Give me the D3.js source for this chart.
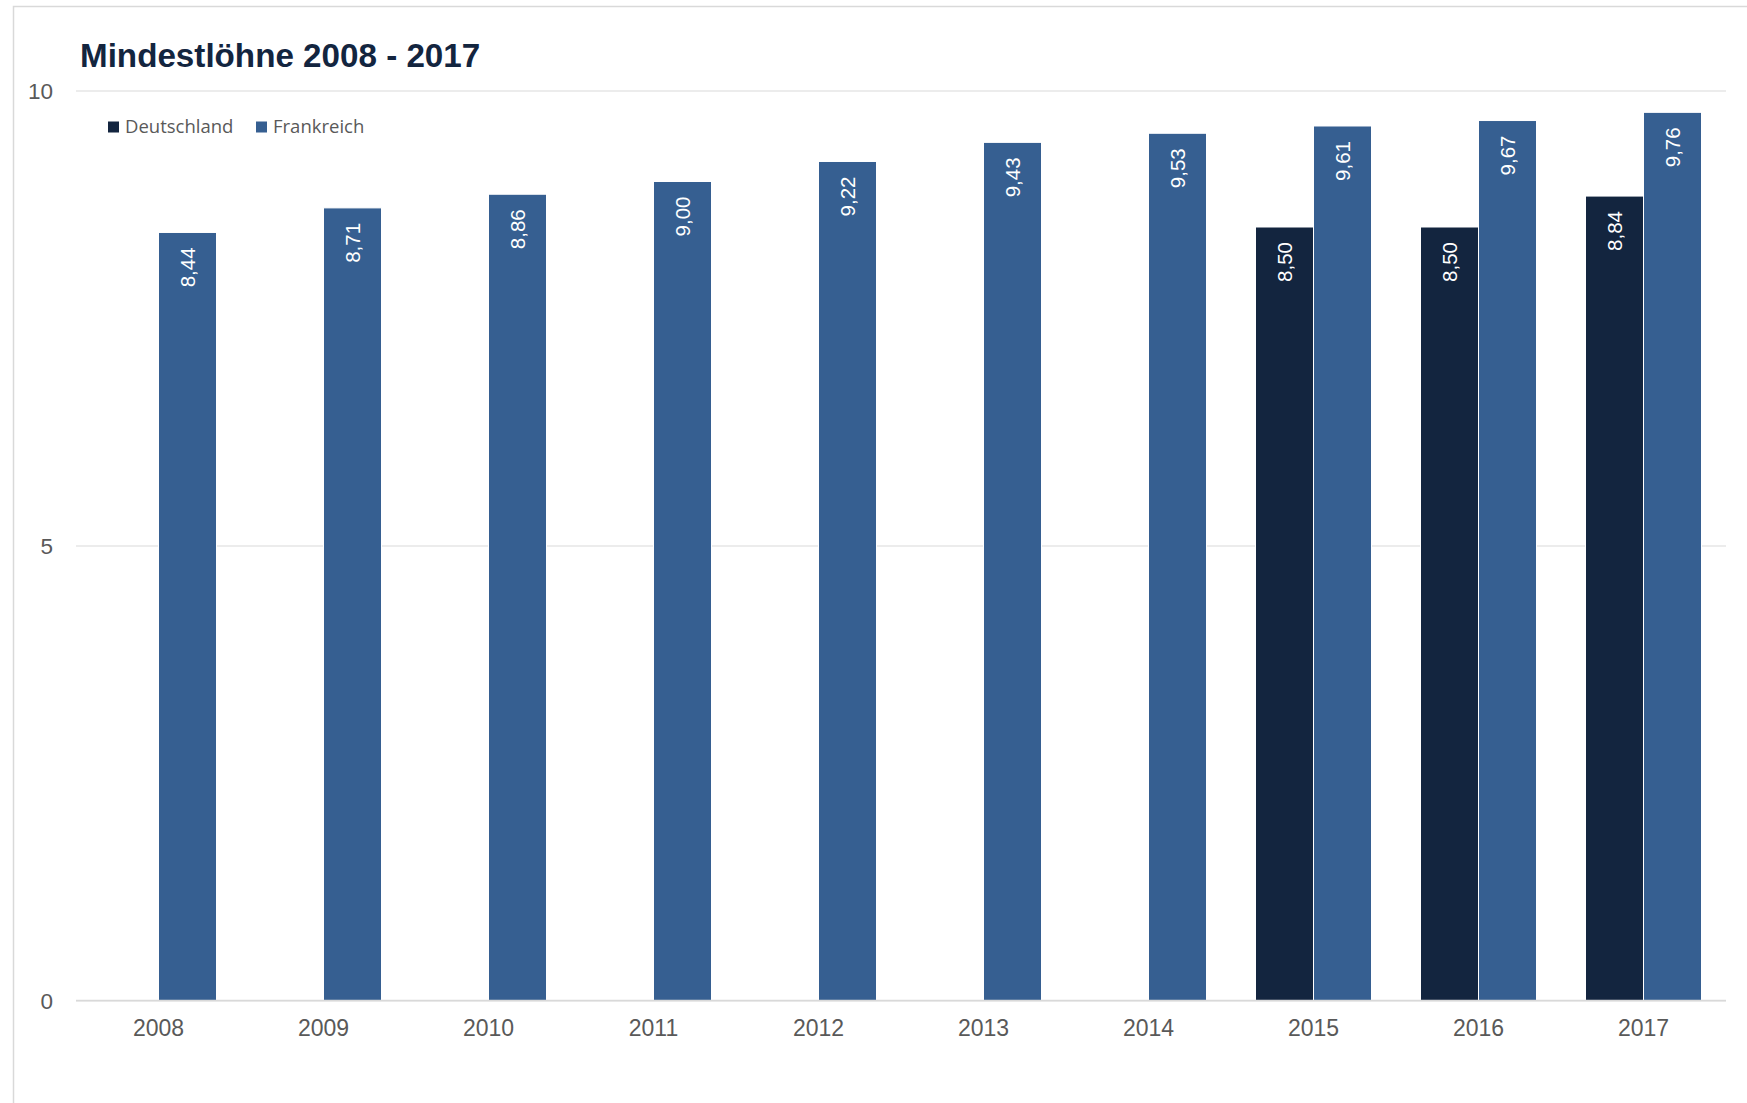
<!DOCTYPE html>
<html>
<head>
<meta charset="utf-8">
<script src="https://cdn.jsdelivr.net/npm/d3@7"></script>
<style>
  html, body { margin: 0; padding: 0; background: #ffffff; }
  svg { display: block; }
</style>
</head>
<body>
<svg id="chart" width="1747" height="1103"></svg>
<script>
// ---- data ----
const years = ["2008", "2009", "2010", "2011", "2012", "2013", "2014", "2015", "2016", "2017"];
const seriesNames = ["Deutschland", "Frankreich"];
const deutschland = [null, null, null, null, null, null, null, 8.50, 8.50, 8.84];
const frankreich = [8.44, 8.71, 8.86, 9.00, 9.22, 9.43, 9.53, 9.61, 9.67, 9.76];
const yTicks = [0, 5, 10];
const title = "Mindestlöhne 2008 - 2017";

// ---- layout / style ----
const colors = { "Deutschland": "#13253f", "Frankreich": "#365f91" };
const labelColor = "#595959";
const gridColor = "#d9d9d9";
const fontAxis = "'Liberation Sans', Arial, sans-serif";
const plot = { left: 76, right: 1726, top: 90.5, bottom: 1000.5 };

const svg = d3.select("#chart");

// outer frame
svg.append("rect")
  .attr("x", 13.5).attr("y", 6.5)
  .attr("width", 1800).attr("height", 1200)
  .attr("fill", "none").attr("stroke", gridColor).attr("stroke-width", 1.5);

// title
svg.append("text")
  .attr("x", 80).attr("y", 67)
  .attr("font-family", fontAxis)
  .attr("font-weight", "bold")
  .attr("font-size", 33.2)
  .attr("fill", "#13253f")
  .text(title);

// scales
const y = d3.scaleLinear().domain([0, 10]).range([plot.bottom, plot.top]);
const x0 = d3.scaleBand().domain(years).range([plot.left, plot.right])
  .paddingInner(0.297).paddingOuter(0.1485);
const x1 = d3.scaleBand().domain(seriesNames).range([0, x0.bandwidth()]).padding(0);

// y axis with gridlines
const yAxis = svg.append("g")
  .attr("transform", `translate(${plot.left},0)`)
  .call(d3.axisLeft(y).tickValues(yTicks).tickSize(-(plot.right - plot.left)).tickPadding(23).tickFormat(d3.format("d")));
yAxis.select(".domain").remove();
yAxis.selectAll(".tick line").attr("stroke", gridColor).attr("stroke-width", 1.2);
yAxis.selectAll(".tick text")
  .attr("fill", labelColor)
  .attr("font-family", fontAxis)
  .attr("font-size", 22.5)
  .attr("dy", "0.36em");

// bars
const rows = years.map((yr, i) => ({ year: yr, values: [
  { key: "Deutschland", value: deutschland[i] },
  { key: "Frankreich", value: frankreich[i] }
]}));

const groups = svg.append("g").selectAll("g")
  .data(rows).join("g")
  .attr("transform", d => `translate(${x0(d.year)},0)`);

const fmt = v => d3.format(".2f")(v).replace(".", ",");

const bars = groups.selectAll("g.bar")
  .data(d => d.values.filter(v => v.value != null))
  .join("g").attr("class", "bar");

bars.append("rect")
  .attr("x", d => x1(d.key))
  .attr("y", d => y(d.value))
  .attr("width", x1.bandwidth())
  .attr("height", d => y(0) - y(d.value))
  .attr("fill", d => colors[d.key])
  .attr("stroke", "#ffffff")
  .attr("stroke-width", 1);

bars.append("text")
  .attr("transform", d => `translate(${x1(d.key) + x1.bandwidth() / 2},${y(d.value) + 15}) rotate(-90)`)
  .attr("text-anchor", "end")
  .attr("dy", "0.36em")
  .attr("fill", "#ffffff")
  .attr("font-family", fontAxis)
  .attr("font-size", 20.5)
  .text(d => fmt(d.value));

// x axis
const xAxis = svg.append("g")
  .attr("transform", `translate(0,${plot.bottom})`)
  .call(d3.axisBottom(x0).tickSize(0).tickPadding(19.5));
xAxis.select(".domain")
  .attr("d", `M${plot.left},0H${plot.right}`)
  .attr("stroke", gridColor).attr("stroke-width", 1.6);
xAxis.selectAll(".tick text")
  .attr("fill", labelColor)
  .attr("font-family", fontAxis)
  .attr("font-size", 23);

// legend
const legend = svg.append("g").attr("transform", "translate(108,127)");
const legendX = [0, 148];
seriesNames.forEach((name, i) => {
  const g = legend.append("g").attr("transform", `translate(${legendX[i]},0)`);
  g.append("rect").attr("x", 0).attr("y", -5.5).attr("width", 11).attr("height", 11).attr("fill", colors[name]);
  g.append("text").attr("x", 17).attr("y", 0).attr("dy", "0.35em")
    .attr("fill", labelColor)
    .attr("font-family", "'Open Sans', sans-serif")
    .attr("font-size", 18.5)
    .text(name);
});
</script>
</body>
</html>
